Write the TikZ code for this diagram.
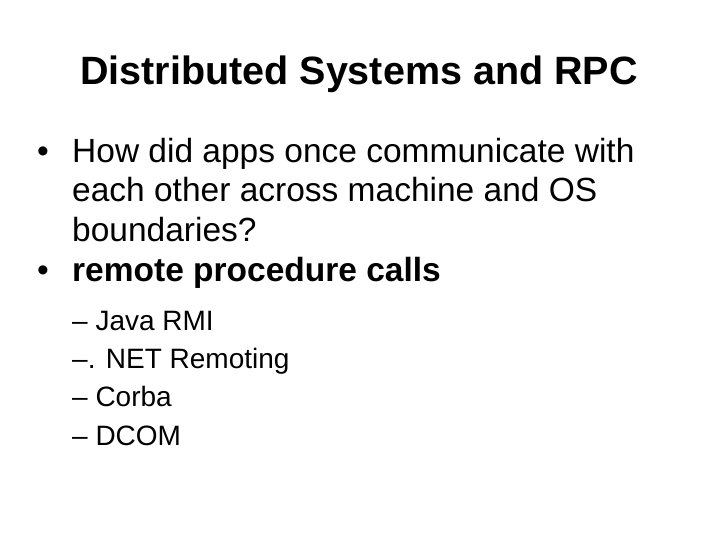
\documentclass[tikz,border=0pt]{standalone}
\usepackage{fontspec}
\setmainfont{Liberation Sans}
\begin{document}
\begin{tikzpicture}[x=1pt,y=-1pt,
  t/.style={anchor=base west,inner sep=0pt,font=\fontsize{33.5}{36}\selectfont},
  s/.style={anchor=base west,inner sep=0pt,font=\fontsize{28}{30}\selectfont}]
\useasboundingbox[fill=white] (0,0) rectangle (720,540);
\node[anchor=base,inner sep=0pt,font=\fontsize{39.5}{42}\bfseries\selectfont] (title) at (359,85) {Distributed Systems and RPC};
\node[t] (b1) at (37,163) {•};
\node[t] (l1) at (72,163) {How did apps once communicate with};
\node[t] (l2) at (72,202) {each other across machine and OS};
\node[t] (l3) at (72,241) {boundaries?};
\node[t] (b2) at (37,281) {•};
\node[t,font=\fontsize{33.5}{36}\bfseries\selectfont] (l4) at (72,281) {remote procedure calls};
\node[s] (s1) at (72,330) {– Java RMI};
\node[s] (s2) at (72,368) {–. NET Remoting};
\node[s] (s3) at (72,406) {– Corba};
\node[s] (s4) at (72,445) {– DCOM};
\end{tikzpicture}
\end{document}
